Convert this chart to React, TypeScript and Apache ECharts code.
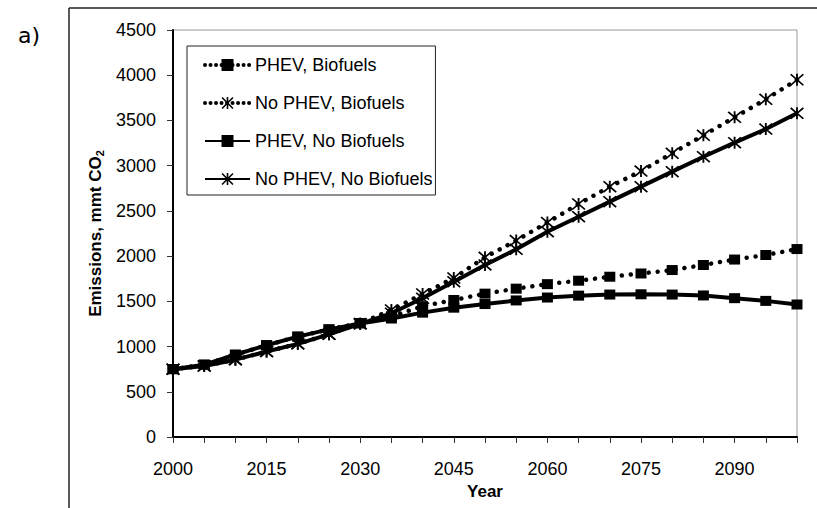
import React, { useEffect, useRef } from "react";
import * as echarts from "echarts";

const years = ["2000","2005","2010","2015","2020","2025","2030","2035","2040","2045","2050","2055","2060","2065","2070","2075","2080","2085","2090","2095","2100"];
const seriesNames = ["PHEV, Biofuels", "No PHEV, Biofuels", "PHEV, No Biofuels", "No PHEV, No Biofuels"];
const phevBio = [750, 800, 910, 1015, 1110, 1190, 1260, 1335, 1445, 1515, 1585, 1640, 1690, 1728, 1772, 1808, 1846, 1902, 1962, 2012, 2078];
const noPhevBio = [750, 785, 855, 945, 1030, 1135, 1255, 1404, 1581, 1758, 1987, 2172, 2372, 2576, 2768, 2940, 3137, 3335, 3535, 3734, 3950];
const phevNoBio = [750, 800, 910, 1015, 1110, 1190, 1255, 1310, 1375, 1430, 1470, 1510, 1542, 1563, 1575, 1578, 1575, 1565, 1535, 1505, 1465];
const noPhevNoBio = [750, 785, 855, 945, 1030, 1135, 1250, 1368, 1534, 1717, 1902, 2075, 2270, 2436, 2602, 2768, 2934, 3099, 3254, 3405, 3579];

const FONT = "'Liberation Sans', Arial, sans-serif";
const STAR =
  "path://M5.2,0 L6.8,0 L6.8,12 L5.2,12 Z M0,1.1 L1.1,0 L12,10.9 L10.9,12 Z M10.9,0 L12,1.1 L1.1,12 L0,10.9 Z";

export default function App() {
  const ref = useRef<HTMLDivElement>(null);
  useEffect(() => {
    if (!ref.current) return;
    const chart = echarts.init(ref.current, undefined, { renderer: "svg" });
    const dotted = { color: "#000", width: 4.5, type: [0.01, 9] as any, cap: "round" as any };
    const solid = { color: "#000", width: 4, type: "solid" as any };
    const legendDotted = { color: "#000", width: 4, type: [0.01, 5.5] as any, cap: "round" as any };
    const mk = (name: string, data: number[], line: any, star: boolean) => ({
      name,
      type: "line",
      data,
      showAllSymbol: true,
      symbol: star ? STAR : "rect",
      symbolSize: star ? [14, 12] : [11, 10],
      lineStyle: line,
      itemStyle: { color: "#000" },
      emphasis: { disabled: true },
      z: 2,
    });
    chart.setOption({
      animation: false,
      backgroundColor: "#fff",
      grid: {
        left: 173,
        top: 30,
        right: 20,
        bottom: 71,
        show: true,
        borderColor: "#999",
        borderWidth: 1,
        backgroundColor: "transparent",
      },
      legend: {
        orient: "vertical",
        left: 187,
        top: 46,
        itemWidth: 45,
        itemHeight: 15,
        itemGap: 20,
        padding: [10, 3, 7, 16],
        borderColor: "#222",
        borderWidth: 1,
        backgroundColor: "#fff",
        textStyle: { fontFamily: FONT, fontSize: 18, color: "#000" },
        data: [
          { name: seriesNames[0], lineStyle: legendDotted },
          { name: seriesNames[1], lineStyle: legendDotted },
          { name: seriesNames[2] },
          { name: seriesNames[3] },
        ],
      },
      xAxis: {
        type: "category",
        data: years,
        boundaryGap: false,
        name: "Year",
        nameLocation: "middle",
        nameGap: 43,
        nameTextStyle: { fontFamily: FONT, fontSize: 17, fontWeight: "bold", color: "#000" },
        axisLine: { lineStyle: { color: "#000", width: 2 } },
        axisTick: { interval: 0, length: 6, lineStyle: { color: "#333", width: 1 } },
        axisLabel: { interval: 2, margin: 23, fontFamily: FONT, fontSize: 18, color: "#000" },
        splitLine: { show: false },
      },
      yAxis: {
        type: "value",
        min: 0,
        max: 4500,
        interval: 500,
        name: "{a|Emissions, mmt CO}{b|2}",
        nameLocation: "middle",
        nameGap: 48,
        nameTextStyle: {
          fontFamily: FONT,
          color: "#000",
          rich: {
            a: { fontFamily: FONT, fontSize: 17, fontWeight: "bold", color: "#000" },
            b: { fontFamily: FONT, fontSize: 11, fontWeight: "bold", color: "#000", verticalAlign: "bottom", padding: [8, 0, 0, 0] },
          },
        },
        axisLine: { show: true, lineStyle: { color: "#000", width: 2 } },
        axisTick: { show: true, length: 6, lineStyle: { color: "#333", width: 1 } },
        axisLabel: { margin: 17, fontFamily: FONT, fontSize: 18, color: "#000", formatter: (v: number) => String(v) },
        splitLine: { show: false },
      },
      series: [
        mk(seriesNames[0], phevBio, dotted, false),
        mk(seriesNames[1], noPhevBio, dotted, true),
        mk(seriesNames[2], phevNoBio, solid, false),
        mk(seriesNames[3], noPhevNoBio, solid, true),
      ],
      graphic: [
        { type: "line", shape: { x1: 69, y1: 8, x2: 817, y2: 8 }, style: { stroke: "#222", lineWidth: 1.5 } },
        { type: "line", shape: { x1: 69, y1: 8, x2: 69, y2: 508 }, style: { stroke: "#222", lineWidth: 1.5 } },
        { type: "text", left: 18, top: 24, style: { text: "a)", fontFamily: "'DejaVu Sans', Verdana, sans-serif", fontSize: 22, fill: "#000" } },
      ],
    });
    return () => chart.dispose();
  }, []);
  return <div ref={ref} style={{ position: "absolute", left: 0, top: 0, width: 817, height: 508 }} />;
}
